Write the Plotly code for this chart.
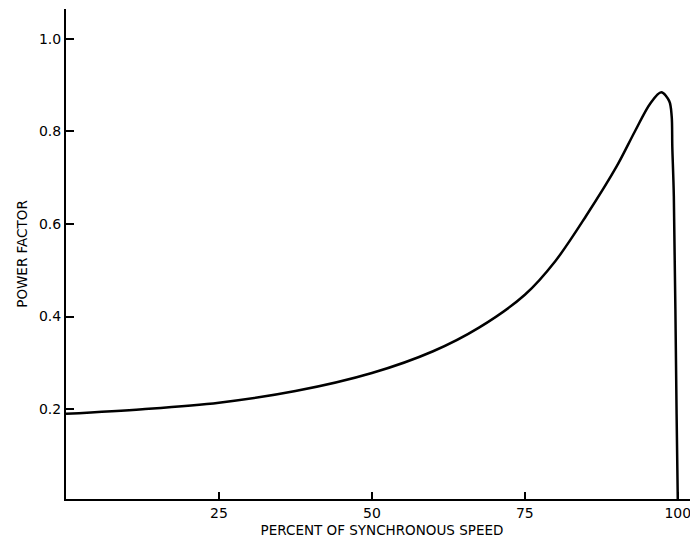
import plotly.graph_objects as go

# curve
speed = [0, 12.5, 25, 37.5, 50, 60, 67.5, 75, 80, 85, 90, 93, 95.5, 97.3, 98.6, 99.0, 99.1, 99.35, 99.8, 100]
power_factor = [0.190, 0.200, 0.214, 0.239, 0.278, 0.325, 0.376, 0.447, 0.520, 0.617, 0.724,
                0.800, 0.860, 0.884, 0.865, 0.832, 0.767, 0.660, 0.190, 0.0]

x_ticks = [25, 50, 75, 100]
y_ticks = [0.2, 0.4, 0.6, 0.8, 1.0]
y_labels = ['0.2', '0.4', '0.6', '0.8', '1.0']

font = dict(family='DejaVu Sans, Arial, sans-serif', color='black')

fig = go.Figure()
fig.add_trace(go.Scatter(x=speed, y=power_factor, mode='lines',
                         line=dict(color='black', width=2.5, shape='spline', smoothing=0.9),
                         showlegend=False))

# page body has an 8px margin, so the figure is shrunk by that much
fig.update_layout(
    width=690, height=540,
    margin=dict(l=58, r=0, t=1, b=49),
    paper_bgcolor='white', plot_bgcolor='white',
    font=font,
    xaxis=dict(range=[0, 103.3], tickvals=x_ticks, ticks='inside', ticklen=7,
               tickwidth=1.5, tickcolor='black', showline=True, linecolor='black',
               linewidth=2, showgrid=False, zeroline=False, tickfont=dict(size=14),
               automargin=False,
               title=dict(text='PERCENT OF SYNCHRONOUS SPEED', font=dict(size=13.5), standoff=6)),
    yaxis=dict(range=[0.006, 1.064], tickvals=y_ticks, ticktext=y_labels, ticks='inside',
               ticklen=8, tickwidth=1.5, tickcolor='black', showline=True, linecolor='black',
               linewidth=2, showgrid=False, zeroline=False, tickfont=dict(size=14),
               automargin=False,
               title=dict(text='POWER FACTOR', font=dict(size=13.5), standoff=8)),
)

fig.write_html('out.html')
